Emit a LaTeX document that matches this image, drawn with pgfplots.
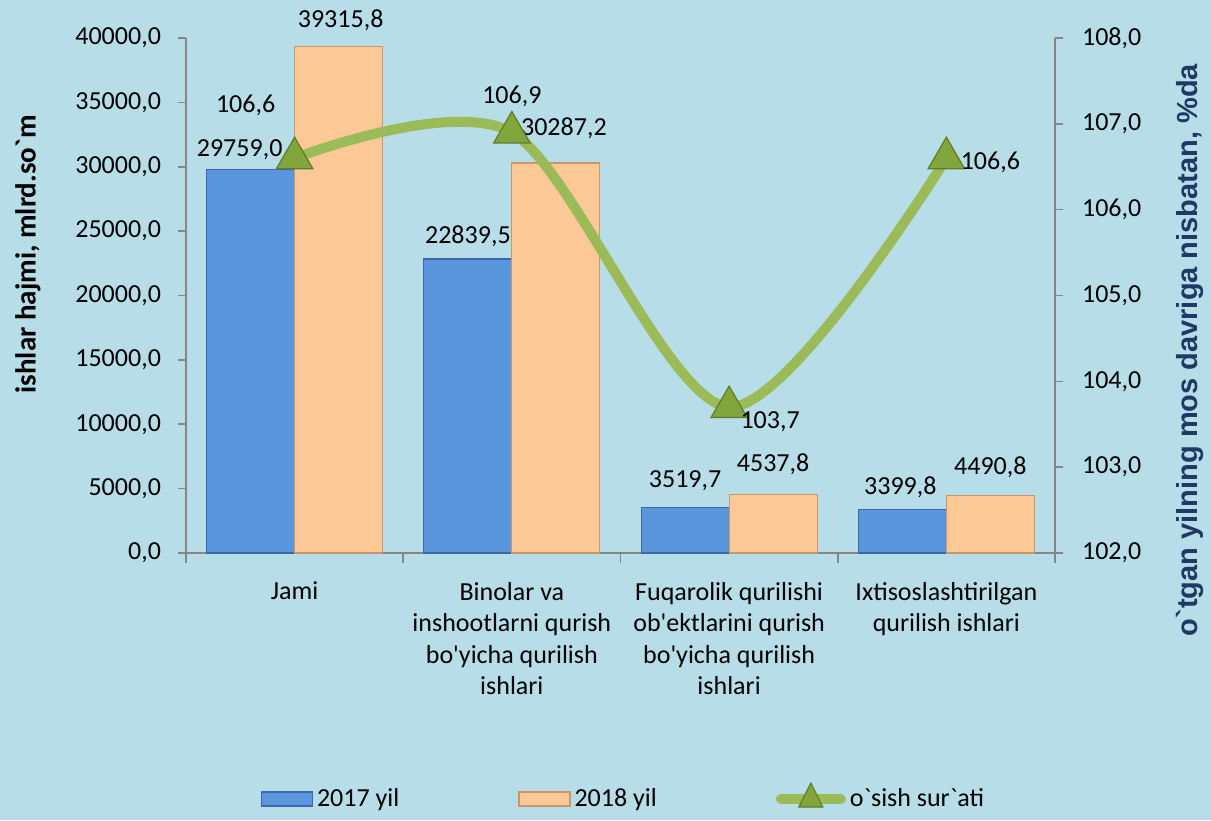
\documentclass[border=0pt]{standalone}
\usepackage{fontspec}
\newfontfamily\calfont{Carlito}
\newfontfamily\arialfont{Liberation Sans}
\usepackage{pgfplots}
\pgfplotsset{compat=1.18}
\definecolor{bg}{RGB}{183,221,232}
\definecolor{bblue}{RGB}{90,150,220}
\definecolor{bblueE}{RGB}{60,105,165}
\definecolor{bpeach}{RGB}{251,200,150}
\definecolor{bpeachE}{RGB}{200,150,105}
\definecolor{lgreen}{RGB}{155,187,89}
\definecolor{mgreen}{RGB}{130,165,60}
\definecolor{mgreenE}{RGB}{95,125,40}
\definecolor{axgrey}{RGB}{134,134,134}
\definecolor{navy}{RGB}{31,56,100}
\pgfplotsset{
  common/.style={
    scale only axis, width=434.5pt, height=257.5pt,
    xmin=-0.5, xmax=3.5,
    font=\calfont\fontsize{13}{15.75}\selectfont,
    axis line style={axgrey, line width=0.8pt},
    tick style={axgrey, line width=0.8pt},
    tick align=outside, major tick length=4pt, minor tick length=5pt,
    scaled y ticks=false,
    /pgf/number format/fixed, /pgf/number format/fixed zerofill,
    /pgf/number format/precision=1, /pgf/number format/use comma,
    /pgf/number format/1000 sep={}, /pgf/number format/assume math mode=true,
  }
}
\begin{document}
\calfont
\begin{tikzpicture}
\path[use as bounding box, fill=bg] (-93pt,-133.5pt) rectangle (512.5pt,276.5pt);
\begin{axis}[common,
  ybar, bar width=44pt,
  ymin=0, ymax=40000, ytick={0,5000,...,40000},
  axis y line*=left, axis x line*=bottom,
  xtick={0,1,2,3},
  major x tick style={draw=none},
  minor xtick={-0.5,0.5,1.5,2.5,3.5},
  xticklabels={Jami,{Binolar va\\inshootlarni qurish\\bo'yicha qurilish\\ishlari},{Fuqarolik qurilishi\\ob'ektlarini qurish\\bo'yicha qurilish\\ishlari},{Ixtisoslashtirilgan\\qurilish ishlari}},
  xticklabel style={align=center, yshift=-7pt, font=\calfont\fontsize{13}{15.75}\selectfont},
  yticklabel style={xshift=-5pt},
  ylabel={\calfont\bfseries\fontsize{14.5}{16}\selectfont ishlar hajmi, mlrd.so`m},
  every axis y label/.style={at={(axis description cs:0,0.58)}, xshift=-79pt, rotate=90, anchor=center},
]
\addplot[fill=bblue, draw=bblueE, line width=0.6pt, bar shift=-22pt,
  nodes near coords,
  visualization depends on={\thisrow{dx} \as \dx},
  visualization depends on={\thisrow{dy} \as \dy},
  every node near coord/.append style={anchor=center, xshift=\dx pt, yshift=\dy pt, font=\calfont\fontsize{13}{15.75}\selectfont, black}]
  table {
x y dx dy
0 29759.0 -5.5 10
1 22839.5 0 11.5
2 3519.7 0 13.5
3 3399.8 -1 11
};
\addplot[fill=bpeach, draw=bpeachE, line width=0.6pt, bar shift=22pt,
  nodes near coords,
  visualization depends on={\thisrow{dx} \as \dx},
  visualization depends on={\thisrow{dy} \as \dy},
  every node near coord/.append style={anchor=center, xshift=\dx pt, yshift=\dy pt, font=\calfont\fontsize{13}{15.75}\selectfont, black}]
  table {
x y dx dy
0 39315.8 1 13.5
1 30287.2 4 17.5
2 4537.8 0 15
3 4490.8 0 14
};
\end{axis}
\begin{axis}[common,
  ymin=102, ymax=108, ytick={102,103,...,108},
  axis y line*=right, axis x line=none,
  yticklabel style={xshift=6pt},
  ylabel={\arialfont\bfseries\fontsize{14.5}{16}\selectfont\color{navy} o`tgan yilning mos davriga nisbatan, \%da},
  every axis y label/.style={at={(axis description cs:1,0.394)}, xshift=67.5pt, rotate=90, anchor=center},
  legend columns=3,
  legend style={at={(axis description cs:0.5,0)}, xshift=2pt, yshift=-122.5pt, anchor=center, draw=none, fill=none,
    font=\calfont\fontsize{13}{15.75}\selectfont, /tikz/every even column/.append style={column sep=57.5pt}},
  legend cell align=left,
]
\addlegendimage{legend image code/.code={\draw[fill=bblue, draw=bblueE, line width=0.6pt] (0pt,-3.5pt) rectangle (25.5pt,3.5pt);}}
\addlegendimage{legend image code/.code={\draw[fill=bpeach, draw=bpeachE, line width=0.6pt] (0pt,-3.5pt) rectangle (25.5pt,3.5pt);}}
\addplot[lgreen, line width=5pt, smooth, mark=triangle*, mark size=10.5pt,
  mark options={fill=mgreen, draw=mgreenE, line width=0.6pt},
  legend image code/.code={\draw[lgreen, line width=5pt, line cap=round] (0pt,0pt) -- (30pt,0pt); \fill[mgreen, draw=mgreenE, line width=0.6pt] (15pt,8pt) -- (21pt,-4pt) -- (9pt,-4pt) -- cycle;},
  nodes near coords,
  visualization depends on={\thisrow{dx} \as \dx},
  visualization depends on={\thisrow{dy} \as \dy},
  every node near coord/.append style={anchor=center, xshift=\dx pt, yshift=\dy pt, font=\calfont\fontsize{13}{15.75}\selectfont, black}]
  table {
x y dx dy
0 106.6 -24.5 26.5
1 106.9 0 18
2 103.7 20.5 -7.5
3 106.6 22 -2
};
\legend{2017 yil, 2018 yil, o`sish sur`ati}
\end{axis}
\end{tikzpicture}
\end{document}
